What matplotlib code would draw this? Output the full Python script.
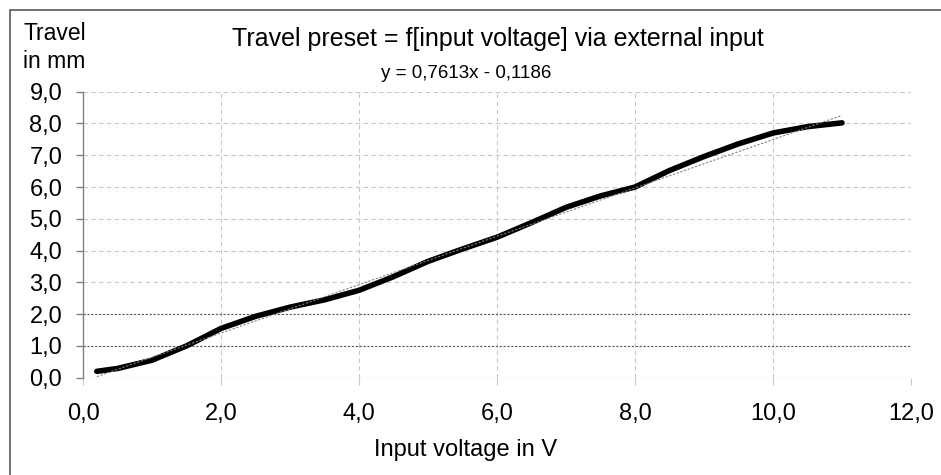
import matplotlib
matplotlib.use("Agg")
import matplotlib.pyplot as plt
from matplotlib.patches import Rectangle
from matplotlib.ticker import FuncFormatter

# measured travel vs. input voltage
voltage = [0.2, 0.5, 1.0, 1.5, 2.0, 2.5, 3.0, 3.5, 4.0, 4.5, 5.0, 5.5,
           6.0, 6.5, 7.0, 7.5, 8.0, 8.5, 9.0, 9.5, 10.0, 10.5, 11.0]
travel = [0.20, 0.29, 0.55, 1.00, 1.55, 1.93, 2.22, 2.45, 2.75, 3.18, 3.66, 4.05,
          4.42, 4.88, 5.36, 5.72, 6.00, 6.52, 6.96, 7.36, 7.70, 7.90, 8.02]

# linear trendline as shown in the chart
slope = 0.7613
intercept = -0.1186
trend_x = [0.2, 11.0]

x_ticks = [0, 2, 4, 6, 8, 10, 12]
y_ticks = [0, 1, 2, 3, 4, 5, 6, 7, 8, 9]
dark_grid = [0, 1, 2]

W, H = 941, 475
plt.rcParams["font.family"] = ["Liberation Sans", "DejaVu Sans"]

fig = plt.figure(figsize=(W / 100, H / 100), dpi=100)
ax = fig.add_axes([83 / W, 1 - 377.7 / H, 828 / W, 286 / H])

comma = FuncFormatter(lambda v, p: f"{v:.1f}".replace(".", ","))

# grid
for xv in x_ticks[1:]:
    ax.axvline(xv, color="#c8c8c8", lw=0.8, ls=(0, (4, 3)), zorder=1)
for yv in y_ticks:
    if yv in dark_grid:
        ax.axhline(yv, color="#555555", lw=0.8, ls=(0, (2, 1.5)), zorder=1)
    else:
        ax.axhline(yv, color="#c8c8c8", lw=0.8, ls=(0, (4, 3)), zorder=1)

ax.plot(voltage, travel, color="black", lw=4, solid_joinstyle="round",
        solid_capstyle="round", zorder=3)
ax.plot(trend_x, [slope * t + intercept for t in trend_x], color="#808080",
        lw=0.8, ls=(0, (2, 1.5)), zorder=4)

ax.set_xlim(0, 12)
ax.set_ylim(0, 9)
ax.set_xticks(x_ticks)
ax.set_yticks(y_ticks)
ax.xaxis.set_major_formatter(comma)
ax.yaxis.set_major_formatter(comma)

for s in ["top", "right", "bottom"]:
    ax.spines[s].set_visible(False)
ax.spines["left"].set_color("#808080")
ax.spines["left"].set_linewidth(1)
ax.tick_params(axis="y", length=5, width=1, color="#808080", pad=10,
               labelsize=17)
ax.tick_params(axis="x", length=5, width=0.8, color="#c8c8c8", pad=13,
               labelsize=17)

ax.set_xlabel("Input voltage in V", fontsize=17)
ax.xaxis.set_label_coords((466 - 83) / 828, -(456 - 377.7) / 286)
ax.xaxis.label.set_va("baseline")

fig.text(498 / W, 1 - 46 / H, "Travel preset = f[input voltage] via external input",
         ha="center", va="baseline", fontsize=18)
fig.text(466 / W, 1 - 78 / H, "y = 0,7613x - 0,1186",
         ha="center", va="baseline", fontsize=13.5)
fig.text(23 / W, 1 - 40 / H, "Travel", ha="left", va="baseline", fontsize=16.5)
fig.text(23 / W, 1 - 68 / H, "in mm", ha="left", va="baseline", fontsize=16.5)

# outer chart border (only top and left edges fall inside the image)
fig.patches.append(Rectangle((9.5 / W, -5 / H), 940 / W, (H - 9.5 + 5) / H,
                             transform=fig.transFigure, fill=False,
                             edgecolor="#595959", lw=1.2))

fig.savefig("out.png", dpi=100)
